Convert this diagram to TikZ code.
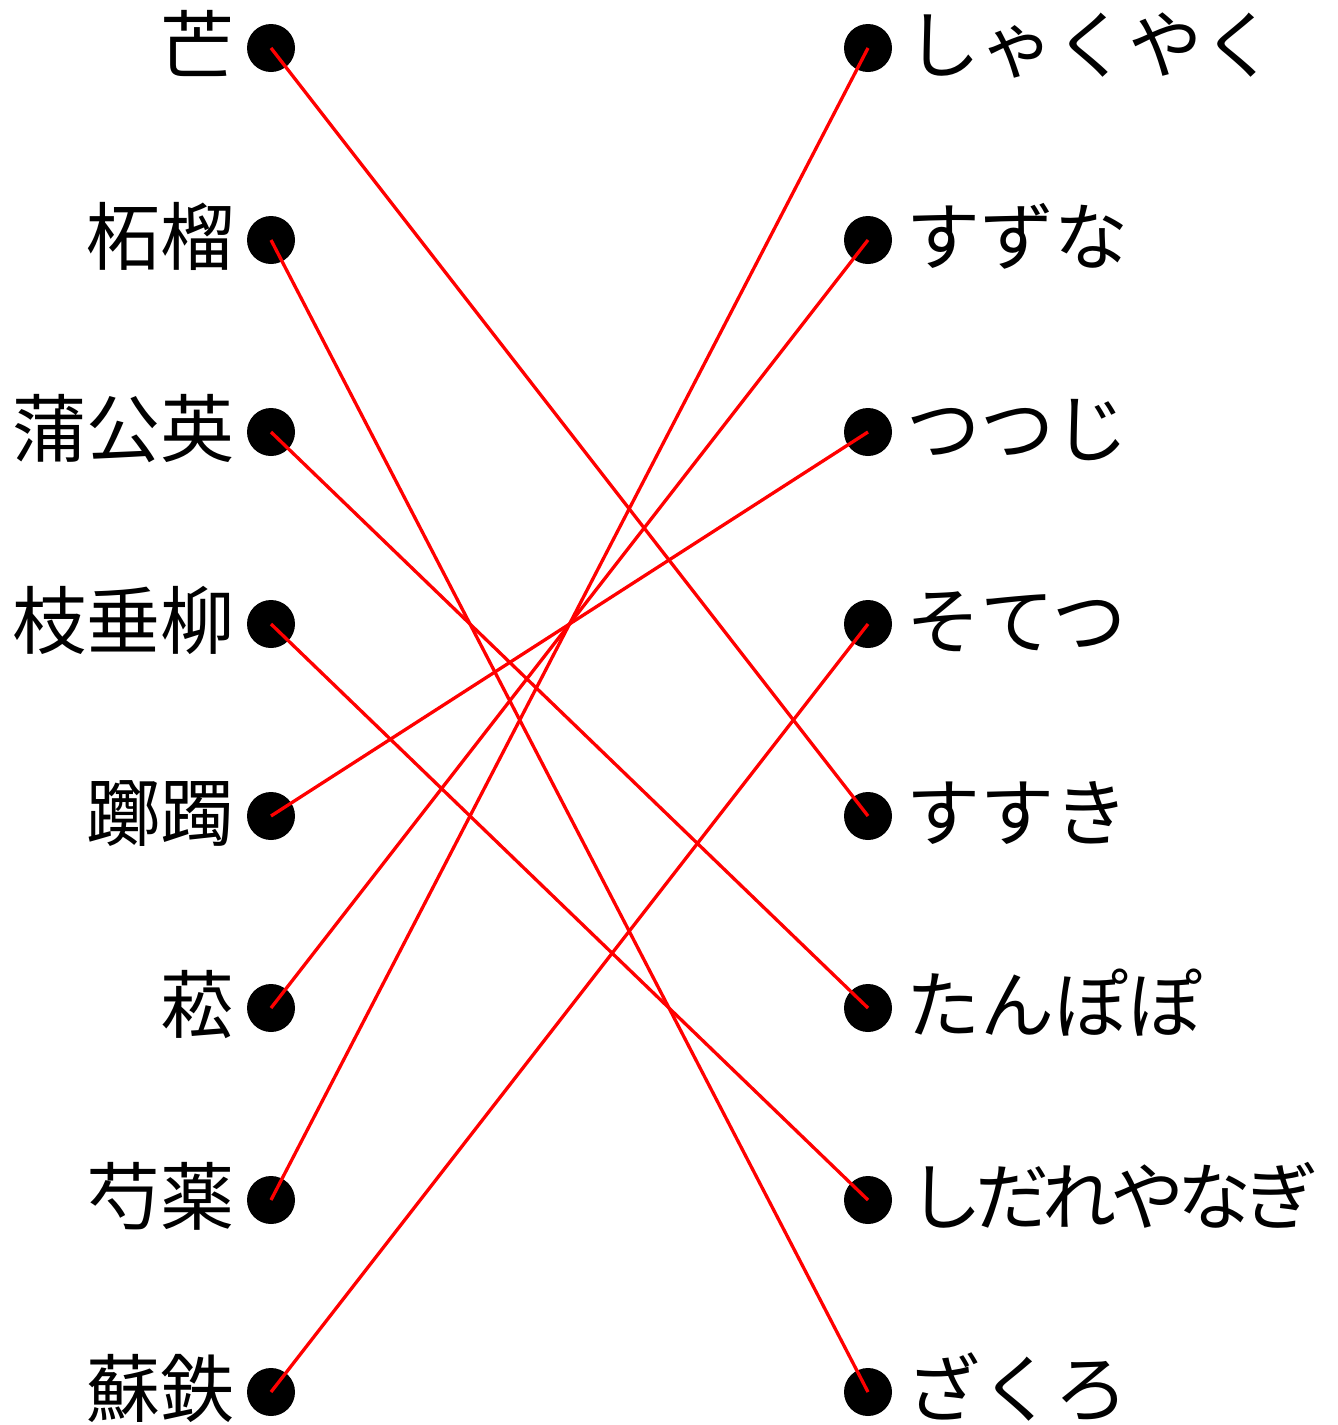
\documentclass[tikz,border=0pt]{standalone}
\usepackage{fontspec}
\newfontfamily\jpfont{Noto Sans CJK JP}
\newfontfamily\jpfonttight[LetterSpace=-9]{Noto Sans CJK JP}
\begin{document}
\begin{tikzpicture}[x=1pt,y=-1pt,
  dot/.style={circle,fill=black,inner sep=0pt,minimum size=48pt},
  leftlab/.style={anchor=base east,inner sep=0pt,font=\jpfont\fontsize{74}{74}\selectfont},
  rightlab/.style={anchor=base west,inner sep=0pt,font=\jpfont\fontsize{74}{74}\selectfont},
  link/.style={draw=red,line width=3.3pt}]
\useasboundingbox (0,0) rectangle (1338,1425);
\foreach \i/\t in {1/芒,2/柘榴,3/蒲公英,4/枝垂柳,5/躑躅,6/菘,7/芍薬,8/蘇鉄}{
  \node[dot] (L\i) at (271,{48+192*(\i-1)}) {};
  \node[leftlab] (LT\i) at (235,{72+192*(\i-1)}) {\t};
}
\foreach \i/\t in {1/しゃくやく,2/すずな,3/つつじ,4/そてつ,5/すすき,6/たんぽぽ,8/ざくろ}{
  \node[dot] (R\i) at (868,{48+192*(\i-1)}) {};
  \node[rightlab] (RT\i) at (906,{72+192*(\i-1)}) {\t};
}
\node[dot] (R7) at (868,1200) {};
\node[rightlab,font=\jpfonttight\fontsize{74}{74}\selectfont] (RT7) at (908,1224) {しだれやなぎ};
\draw[link] (L1.center) -- (R5.center);
\draw[link] (L2.center) -- (R8.center);
\draw[link] (L3.center) -- (R6.center);
\draw[link] (L4.center) -- (R7.center);
\draw[link] (L5.center) -- (R3.center);
\draw[link] (L6.center) -- (R2.center);
\draw[link] (L7.center) -- (R1.center);
\draw[link] (L8.center) -- (R4.center);
\end{tikzpicture}
\end{document}
